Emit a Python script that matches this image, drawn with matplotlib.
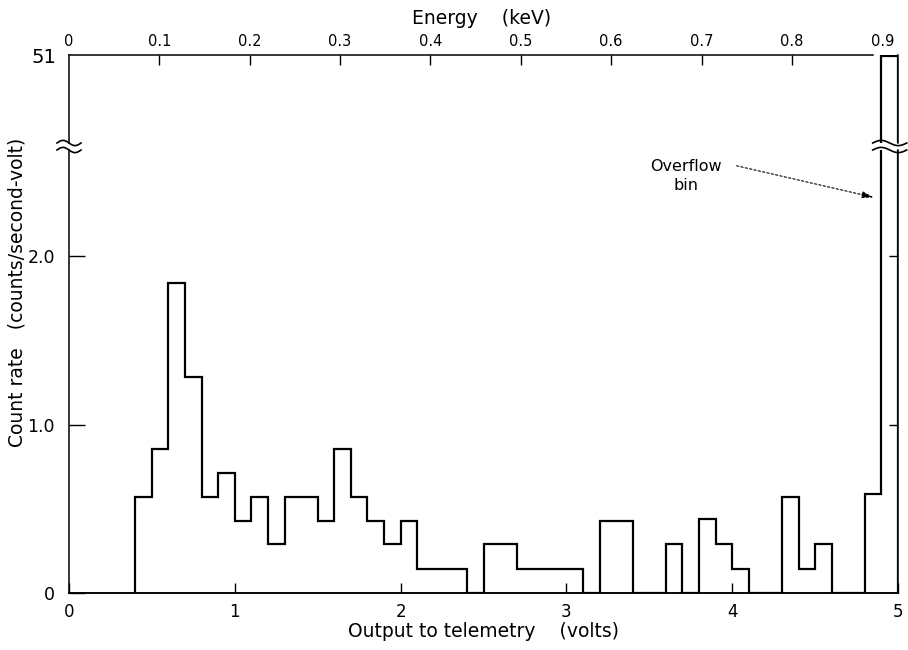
import numpy as np
import matplotlib
matplotlib.use('Agg')
import matplotlib.pyplot as plt
from matplotlib.lines import Line2D
from matplotlib.transforms import IdentityTransform

# --- data ---
bin_start = 0.4      # volts, left edge of first non-empty bin
bin_width = 0.1      # volts
count_rate = [0.57, 0.857, 1.84, 1.28, 0.57, 0.71, 0.43, 0.57, 0.29, 0.57,
              0.57, 0.43, 0.857, 0.57, 0.43, 0.29, 0.43, 0.14, 0.14, 0.14,
              0.0, 0.29, 0.29, 0.14, 0.14, 0.14, 0.14, 0.0, 0.43, 0.43,
              0.0, 0.0, 0.29, 0.0, 0.44, 0.29, 0.14, 0.0, 0.0, 0.57,
              0.14, 0.29, 0.0, 0.0, 0.59,
              51.0]  # last one is the overflow bin
volt_ticks = [0, 1, 2, 3, 4, 5]
volt_labels = ['0', '1', '2', '3', '4', '5']
rate_ticks = [0, 1.0, 2.0]
rate_labels = ['0', '1.0', '2.0']
energy_ticks = [0, 0.1, 0.2, 0.3, 0.4, 0.5, 0.6, 0.7, 0.8, 0.9]
energy_labels = ['0', '0.1', '0.2', '0.3', '0.4', '0.5', '0.6', '0.7', '0.8', '0.9']
volts_per_kev = 5.45

edges = bin_start + bin_width * np.arange(len(count_rate) + 1)

plt.rcParams['font.family'] = 'DejaVu Sans'
W, H = 908, 650
fig = plt.figure(figsize=(W / 100, H / 100), dpi=100)

def frac(px_left, px_top, px_right, px_bottom):
    return [px_left / W, 1 - px_bottom / H, (px_right - px_left) / W, (px_bottom - px_top) / H]

ax_bot = fig.add_axes(frac(69, 150, 898, 593))
ax_top = fig.add_axes(frac(69, 55, 898, 143), sharex=ax_bot)

lw_hist = 1.6
lw_axis = 1.1
for ax in (ax_bot, ax_top):
    ax.stairs(count_rate, edges, baseline=0, fill=False, color='black', linewidth=lw_hist)
    for s in ax.spines.values():
        s.set_linewidth(lw_axis)

# bottom panel
ax_bot.set_xlim(0, 5)
ax_bot.set_ylim(0, 2.63)
ax_bot.axhline(0, color='black', linewidth=lw_axis, clip_on=False)
ax_bot.spines['top'].set_visible(False)
ax_bot.set_xticks(volt_ticks, volt_labels)
ax_bot.set_yticks(rate_ticks, rate_labels)
ax_bot.tick_params(axis='x', direction='in', length=7, width=1, labelsize=12, pad=7)
ax_bot.tick_params(axis='y', direction='in', length=11.5, width=1, labelsize=12.5, pad=10)
ax_bot.set_xlabel('Output to telemetry    (volts)', fontsize=13.5, labelpad=1)
sec_r = ax_bot.secondary_yaxis('right')
sec_r.set_yticks(rate_ticks[1:])
sec_r.tick_params(direction='in', length=6.5, width=1, labelright=False)
sec_r.spines['right'].set_visible(False)

# top panel (overflow)
ax_top.set_ylim(46, 51.05)
ax_top.spines['bottom'].set_visible(False)
ax_top.spines['top'].set_bounds(0, 4.85)
ax_top.tick_params(axis='x', bottom=False, labelbottom=False)
ax_top.set_yticks([51], ['51'])
ax_top.tick_params(axis='y', length=0, labelsize=14, pad=9)

sec_top = ax_top.secondary_xaxis('top', functions=(lambda v: v / volts_per_kev,
                                                   lambda e: e * volts_per_kev))
sec_top.set_xticks(energy_ticks, energy_labels)
sec_top.tick_params(direction='in', length=7, width=1, labelsize=10.5, pad=4)
sec_top.spines['top'].set_visible(False)
for i, t in enumerate(sec_top.xaxis.get_major_ticks()):
    if i in (0, len(energy_ticks) - 1):
        t.tick1line.set_visible(False)
        t.tick2line.set_visible(False)

# axis-break marks
def wave(ax, xc, y_axes, half_px, amp=2.6):
    X = ax.transData.transform((xc, 0))[0]
    Y = ax.transAxes.transform((0, y_axes))[1]
    t = np.linspace(-0.5, 0.5, 60)
    xs = X + t * 2 * half_px
    ys = Y - amp * np.sin(2 * np.pi * t)
    fig.add_artist(Line2D(xs, ys, color='black', linewidth=1.2, transform=IdentityTransform()))

for ax, ya in ((ax_top, 0.0), (ax_bot, 1.0)):
    wave(ax, 0.0, ya, 12)
    wave(ax, 4.95, ya, 17)

# overflow annotation
ax_bot.text(3.72, 2.475, 'Overflow\nbin', fontsize=11.5, ha='center', va='center',
            multialignment='center', linespacing=1.35)
ax_bot.annotate('', xy=(4.87, 2.345), xytext=(4.01, 2.54),
                arrowprops=dict(arrowstyle='-|>,head_length=0.7,head_width=0.2',
                                linestyle=(0, (2, 2)), linewidth=0.8, color='black'))

fig.text(482 / W, 1 - 18 / H, 'Energy    (keV)', fontsize=13.5, ha='center', va='center')
fig.text(17 / W, 1 - 292 / H, 'Count rate   (counts/second-volt)', fontsize=13.5,
         rotation=90, ha='center', va='center')

fig.savefig('out.png', dpi=100)
